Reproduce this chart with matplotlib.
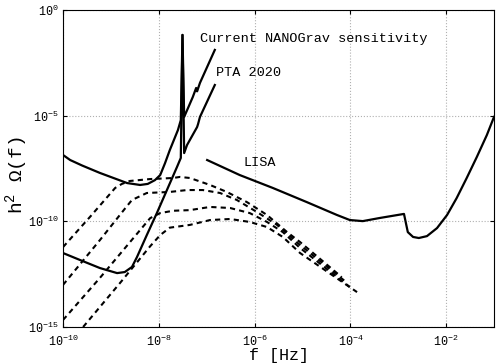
import numpy as np
import matplotlib.pyplot as plt

plt.rcParams['font.family'] = 'Liberation Mono'
plt.rcParams['mathtext.fontset'] = 'custom'
plt.rcParams['mathtext.rm'] = 'Liberation Mono'
plt.rcParams['mathtext.it'] = 'Liberation Mono'

# all values as log10(f [Hz]) and log10(h^2 Omega)
# current NANOGrav sensitivity
nano_logf = [-10.00, -9.85, -9.60, -9.23, -8.91, -8.66, -8.39, -8.23, -8.08, -7.97, -7.87,
             -7.77, -7.60, -7.54, -7.505, -7.47, -7.29, -7.22, -7.20, -7.14, -6.83]
nano_logO = [-6.86, -7.10, -7.36, -7.71, -7.98, -8.19, -8.28, -8.23, -8.05, -7.81, -7.25,
             -6.63, -5.68, -5.21, -1.18, -5.06, -4.12, -3.69, -3.85, -3.45, -1.89]

# PTA 2020
pta_logf = [-10.00, -9.645, -9.23, -8.87, -8.71, -8.56, -8.455, -8.25, -8.04, -7.83,
            -7.62, -7.54, -7.505, -7.47, -7.41, -7.20, -7.18, -7.14, -6.83]
pta_logO = [-11.50, -11.83, -12.21, -12.45, -12.40, -12.16, -11.69, -10.65, -9.61, -8.52,
            -7.43, -7.00, -1.18, -6.77, -6.39, -5.54, -5.40, -5.06, -3.55]

# LISA
lisa_logf = [-6.99, -6.31, -5.62, -4.91, -4.28, -4.01, -3.74, -3.38, -2.88, -2.84,
             -2.80, -2.69, -2.57, -2.40, -2.19, -1.98, -1.78, -1.57, -1.36, -1.15, -1.00]
lisa_logO = [-7.10, -7.81, -8.42, -9.09, -9.70, -9.94, -9.99, -9.84, -9.65, -10.08,
             -10.51, -10.74, -10.79, -10.70, -10.32, -9.70, -8.90, -7.95, -6.96, -5.92, -5.06]

# background spectra (dashed)
bg_a_logf = [-10.00, -9.44, -8.91, -8.77, -8.60, -8.18, -7.70, -7.56, -7.35, -6.93, -6.58,
             -6.16, -5.74, -5.32, -5.05, -4.18]
bg_a_logO = [-11.22, -9.80, -8.42, -8.23, -8.09, -8.00, -7.95, -7.90, -7.95, -8.28, -8.61,
             -9.09, -9.70, -10.51, -10.98, -12.64]
bg_b_logf = [-10.00, -9.23, -8.70, -8.56, -8.25, -7.77, -7.41, -7.08, -6.72, -6.37, -5.95,
             -5.53, -5.05, -4.09]
bg_b_logO = [-13.01, -10.89, -9.38, -8.99, -8.66, -8.61, -8.52, -8.52, -8.66, -8.99, -9.56,
             -10.17, -11.12, -12.87]
bg_c_logf = [-10.00, -9.23, -8.60, -8.18, -7.97, -7.70, -7.35, -6.93, -6.51, -6.10, -5.74,
             -5.41, -5.05, -4.01]
bg_c_logO = [-14.67, -12.68, -10.98, -9.85, -9.61, -9.50, -9.47, -9.32, -9.37, -9.61, -10.03,
             -10.51, -11.26, -13.11]
bg_d_logf = [-9.58, -8.81, -8.18, -7.97, -7.77, -7.35, -6.93, -6.51, -6.10, -5.74, -5.41,
             -5.05, -3.86]
bg_d_logO = [-15.00, -12.92, -11.18, -10.65, -10.30, -10.17, -9.94, -9.89, -10.03, -10.27,
             -10.74, -11.50, -13.35]

xticks = [1e-10, 1e-8, 1e-6, 1e-4, 1e-2]
xticklabels = [r'$10^{-10}$', r'$10^{-8}$', r'$10^{-6}$', r'$10^{-4}$', r'$10^{-2}$']
yticks = [1e-15, 1e-10, 1e-5, 1e0]
yticklabels = [r'$10^{-15}$', r'$10^{-10}$', r'$10^{-5}$', r'$10^{0}$']

fig = plt.figure(figsize=(4.98, 3.63), dpi=100)
ax = fig.add_axes([0.1265, 0.0992, 0.8655, 0.8733])

for lf, lo in [(bg_a_logf, bg_a_logO), (bg_b_logf, bg_b_logO),
               (bg_c_logf, bg_c_logO), (bg_d_logf, bg_d_logO)]:
    ax.plot(10**np.array(lf), 10**np.array(lo), color='black', lw=1.5,
            linestyle=(0, (2.5, 2)))

ax.plot(10**np.array(nano_logf), 10**np.array(nano_logO), color='black', lw=1.6)
ax.plot(10**np.array(pta_logf), 10**np.array(pta_logO), color='black', lw=1.6)
ax.plot(10**np.array(lisa_logf), 10**np.array(lisa_logO), color='black', lw=1.6)

ax.text(10**-7.14, 10**-1.37, 'Current NANOGrav sensitivity', fontsize=9.7, va='center')
ax.text(10**-6.81, 10**-2.98, 'PTA 2020', fontsize=9.7, va='center')
ax.text(10**-6.24, 10**-7.24, 'LISA', fontsize=9.7, va='center')

ax.set_xscale('log')
ax.set_yscale('log')
ax.set_xlim(1e-10, 1e-1)
ax.set_ylim(1e-15, 1e0)
ax.set_xticks(xticks)
ax.set_xticklabels(xticklabels)
ax.set_yticks(yticks)
ax.set_yticklabels(yticklabels)
ax.minorticks_off()
ax.tick_params(direction='in', length=3, labelsize=8.5, top=True, right=True)
ax.tick_params(axis='x', pad=5)
ax.tick_params(axis='y', pad=3)
ax.grid(True, linestyle=':', color='#b0b0b0', lw=0.8)
ax.set_xlabel('f [Hz]', fontsize=12, labelpad=-1)
ax.set_ylabel(r'h$^2$ $\Omega$(f)', fontsize=14)
ax.yaxis.set_label_coords(-0.077, 0.48)

plt.savefig('out.png', dpi=100)
